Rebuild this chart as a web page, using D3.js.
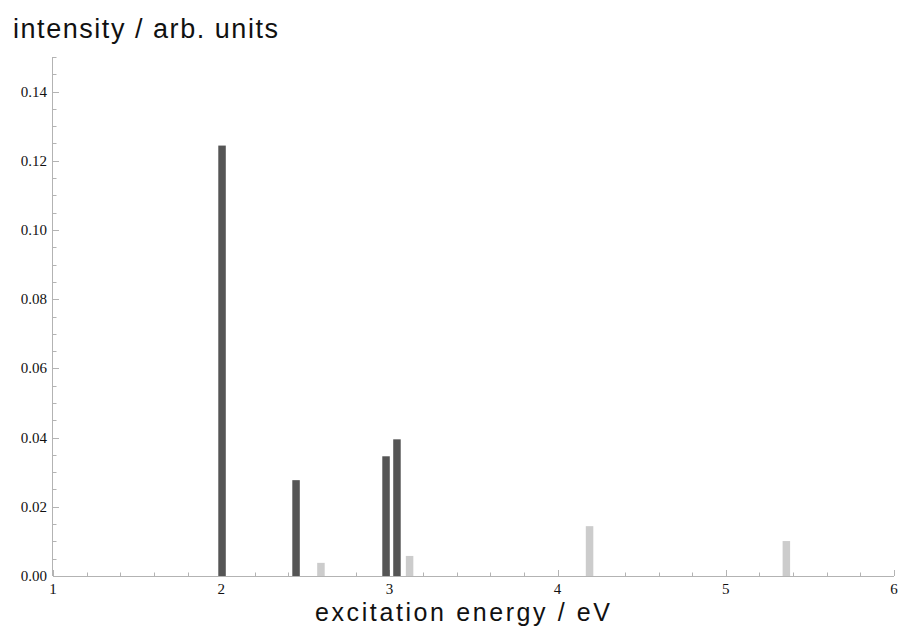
<!DOCTYPE html>
<html>
<head>
<meta charset="utf-8">
<script src="https://cdn.jsdelivr.net/npm/d3@7"></script>
<style>
  body { margin: 0; background: #fff; }
  svg text { fill: #111; }
</style>
</head>
<body>
<div></div>
<script>
// stick spectrum: excitation energies (eV) and intensities
var strongEnergies = [2.005, 2.445, 2.98, 3.045];
var strongIntensities = [0.1244, 0.0277, 0.0346, 0.0395];
var weakEnergies = [2.593, 3.12, 4.19, 5.36];
var weakIntensities = [0.0038, 0.0058, 0.0144, 0.0101];

var xMajor = [1, 2, 3, 4, 5, 6];
var yMajor = [0, 0.02, 0.04, 0.06, 0.08, 0.10, 0.12, 0.14];

var width = 900, height = 634;
var margin = {left: 53, right: 6, top: 57, bottom: 58};

var darkColor = "#555555";
var lightColor = "#cccccc";
var axisColor = "#b3b3b3";
var barWidth = 7.5;

var svg = d3.select("div").append("svg")
        .attr("width", width)
        .attr("height", height);

var x = d3.scaleLinear().domain([1, 6]).range([margin.left, width - margin.right]);
var y = d3.scaleLinear().domain([0, 0.15]).range([height - margin.bottom, margin.top]);

// minor ticks
var xMinor = d3.range(1, 6.001, 0.2);
var yMinor = d3.range(0, 0.1501, 0.005);

var ax = svg.append("g").attr("stroke", axisColor).attr("stroke-width", 1);

ax.append("line")
    .attr("x1", x(1)).attr("x2", x(6))
    .attr("y1", y(0) + 0.5).attr("y2", y(0) + 0.5);
ax.append("line")
    .attr("x1", x(1) - 0.5).attr("x2", x(1) - 0.5)
    .attr("y1", y(0)).attr("y2", y(0.15));

ax.selectAll(".xminor").data(xMinor).enter().append("line")
    .attr("x1", function(d) { return Math.round(x(d)) + 0.5; })
    .attr("x2", function(d) { return Math.round(x(d)) + 0.5; })
    .attr("y1", y(0))
    .attr("y2", function(d, i) { return y(0) - (i % 5 === 0 ? 6 : 3.5); });

ax.selectAll(".yminor").data(yMinor).enter().append("line")
    .attr("y1", function(d) { return Math.round(y(d)) + 0.5; })
    .attr("y2", function(d) { return Math.round(y(d)) + 0.5; })
    .attr("x1", x(1))
    .attr("x2", function(d, i) { return x(1) + (i % 4 === 0 ? 6 : 3.5); });

// tick labels
svg.selectAll(".xlab").data(xMajor).enter().append("text")
    .attr("x", function(d) { return x(d); })
    .attr("y", y(0) + 18)
    .attr("text-anchor", "middle")
    .style("font-family", "'Liberation Serif', 'Times New Roman', serif")
    .style("font-size", "15px")
    .text(function(d) { return d; });

svg.selectAll(".ylab").data(yMajor).enter().append("text")
    .attr("x", x(1) - 6)
    .attr("y", function(d) { return y(d) + 5; })
    .attr("text-anchor", "end")
    .style("font-family", "'Liberation Serif', 'Times New Roman', serif")
    .style("font-size", "15px")
    .text(function(d) { return d3.format(".2f")(d); });

// bars
var weak = weakEnergies.map(function(e, i) { return {e: e, v: weakIntensities[i]}; });
var strong = strongEnergies.map(function(e, i) { return {e: e, v: strongIntensities[i]}; });

svg.selectAll(".weak").data(weak).enter().append("rect")
    .attr("x", function(d) { return x(d.e) - barWidth / 2; })
    .attr("y", function(d) { return y(d.v); })
    .attr("width", barWidth)
    .attr("height", function(d) { return y(0) - y(d.v); })
    .attr("fill", lightColor);

svg.selectAll(".strong").data(strong).enter().append("rect")
    .attr("x", function(d) { return x(d.e) - barWidth / 2; })
    .attr("y", function(d) { return y(d.v); })
    .attr("width", barWidth)
    .attr("height", function(d) { return y(0) - y(d.v); })
    .attr("fill", darkColor);

// axis titles
svg.append("text")
    .attr("x", 13)
    .attr("y", 38)
    .attr("textLength", 265)
    .style("font-family", "'Liberation Sans', Arial, Helvetica, sans-serif")
    .style("font-size", "27px")
    .text("intensity / arb. units");

svg.append("text")
    .attr("x", 315)
    .attr("y", 621)
    .attr("textLength", 295)
    .style("font-family", "'Liberation Sans', Arial, Helvetica, sans-serif")
    .style("font-size", "25px")
    .text("excitation energy / eV");
</script>
</body>
</html>
